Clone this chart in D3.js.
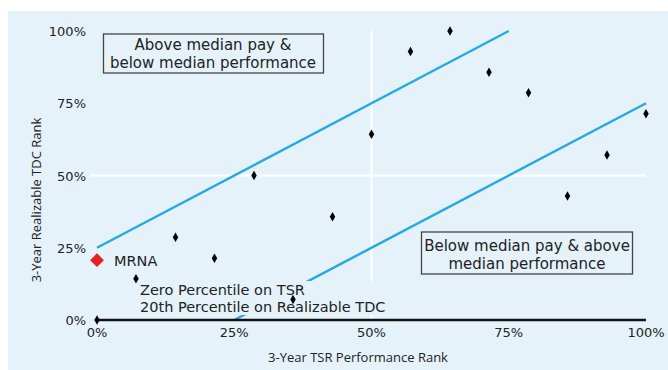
<!DOCTYPE html>
<html><head><meta charset="utf-8">
<script src="https://cdn.jsdelivr.net/npm/d3@7"></script>
<style>body{margin:0;background:#fff}svg{display:block}</style>
</head><body>
<svg id="chart" width="668" height="370"></svg>
<script>
// Data (ranks as fractions)
const peerTSR  = [0, 0.071, 0.143, 0.214, 0.286, 0.357, 0.429, 0.5, 0.571, 0.643, 0.714, 0.786, 0.857, 0.929, 1.0];
const peerTDC  = [0, 0.143, 0.286, 0.214, 0.5, 0.071, 0.357, 0.643, 0.929, 1.0, 0.857, 0.786, 0.429, 0.571, 0.714];
const companyName = "MRNA";
const companyTSR = 0;
const companyTDC = 0.207;
const upperBand = [[0, 0.25], [0.75, 1]];
const lowerBand = [[0.25, 0], [1, 0.75]];
const tickValues = [0, 0.25, 0.5, 0.75, 1];
const tickLabels = ["0%", "25%", "50%", "75%", "100%"];
const xTitle = "3-Year TSR Performance Rank";
const yTitle = "3-Year Realizable TDC Rank";
const boxTopLines = ["Above median pay &", "below median performance"];
const boxBottomLines = ["Below median pay & above", "median performance"];
const noteLines = ["Zero Percentile on TSR", "20th Percentile on Realizable TDC"];

const svg = d3.select("#chart");
const panel = "#e5f2fa";
const font = "'DejaVu Sans', sans-serif";
const titleFont = "'Open Sans', sans-serif";
const x = d3.scaleLinear().domain([0, 1]).range([97, 646]);
const y = d3.scaleLinear().domain([0, 1]).range([320, 31]);

svg.append("rect").attr("x", 8).attr("y", 11).attr("width", 660).attr("height", 359).attr("fill", panel);

// white gridlines at median
svg.append("line").attr("x1", 90).attr("x2", x(1)).attr("y1", y(0.5)).attr("y2", y(0.5))
  .attr("stroke", "#fff").attr("stroke-width", 2);
svg.append("line").attr("x1", x(0.5)).attr("x2", x(0.5)).attr("y1", y(1)).attr("y2", y(0))
  .attr("stroke", "#fff").attr("stroke-width", 2);

// blue band lines
const line = d3.line().x(d => x(d[0])).y(d => y(d[1]));
[upperBand, lowerBand].forEach(b => {
  svg.append("path").attr("d", line(b)).attr("fill", "none").attr("stroke", "#27a9e1").attr("stroke-width", 2.5);
});

// note background covering lines
svg.append("rect").attr("x", 137).attr("y", 281).attr("width", 256).attr("height", 34).attr("fill", panel);

// x axis line
svg.append("line").attr("x1", x(0)).attr("x2", x(1)).attr("y1", y(0)).attr("y2", y(0))
  .attr("stroke", "#111").attr("stroke-width", 2.5);

// tick labels
svg.append("g").selectAll("text").data(tickValues).join("text")
  .attr("x", d => x(d)).attr("y", 337).attr("text-anchor", "middle")
  .attr("font-family", font).attr("font-size", 13).attr("fill", "#222")
  .text((d, i) => tickLabels[i]);
svg.append("g").selectAll("text").data(tickValues).join("text")
  .attr("x", 86).attr("y", d => y(d) + 5).attr("text-anchor", "end")
  .attr("font-family", font).attr("font-size", 13).attr("fill", "#222")
  .text((d, i) => tickLabels[i]);

// axis titles
svg.append("text").attr("x", 358).attr("y", 362).attr("text-anchor", "middle")
  .attr("font-family", titleFont).attr("font-size", 13).attr("fill", "#222").text(xTitle);
svg.append("text").attr("transform", "translate(41,200) rotate(-90)").attr("text-anchor", "middle")
  .attr("font-family", titleFont).attr("font-size", 13).attr("fill", "#222").text(yTitle);

// boxes
function box(bx, by, bw, bh, lines, cx, baselines) {
  svg.append("rect").attr("x", bx).attr("y", by).attr("width", bw).attr("height", bh)
    .attr("fill", "none").attr("stroke", "#444").attr("stroke-width", 1.3);
  lines.forEach((t, i) => svg.append("text").attr("x", cx).attr("y", baselines[i]).attr("text-anchor", "middle")
    .attr("font-family", font).attr("font-size", 15).attr("fill", "#222").text(t));
}
box(103.5, 34, 220, 39, boxTopLines, 213, [50, 68]);
box(421.5, 232, 211, 42, boxBottomLines, 527, [251, 269]);

// note text
noteLines.forEach((t, i) => svg.append("text").attr("x", 140).attr("y", [295, 312][i])
  .attr("font-family", font).attr("font-size", 14.5).attr("fill", "#222").text(t));

// peers
svg.append("g").selectAll("path").data(peerTSR).join("path")
  .attr("transform", (d, i) => `translate(${x(d)},${y(peerTDC[i])})`)
  .attr("d", d3.symbol(d3.symbolDiamond, 26)).attr("fill", "#000");

// company
svg.append("path").attr("transform", `translate(${x(companyTSR)},${y(companyTDC)}) rotate(45)`)
  .attr("d", d3.symbol(d3.symbolSquare, 96)).attr("fill", "#e32227");
svg.append("text").attr("x", 114).attr("y", 266).attr("font-family", font).attr("font-size", 14.5)
  .attr("fill", "#222").text(companyName);
</script>
</body></html>
